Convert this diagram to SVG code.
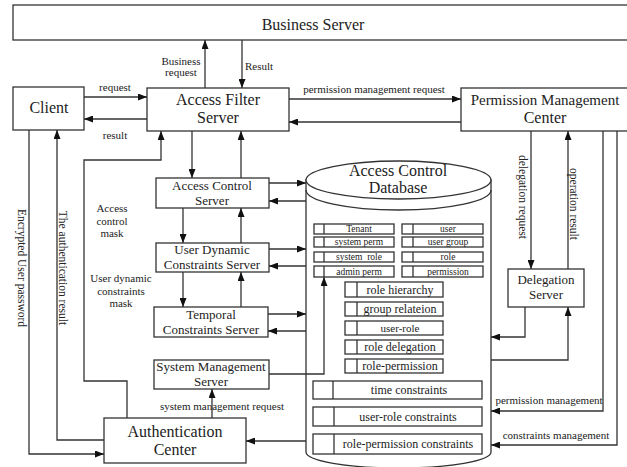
<svg xmlns="http://www.w3.org/2000/svg" width="627" height="467" viewBox="0 0 627 467">
<style>
.box{fill:#fff;stroke:#333;stroke-width:1.3}
.ib{fill:#fff;stroke:#333;stroke-width:1.3}
.ln{fill:none;stroke:#333;stroke-width:1.3}
text{font-family:"Liberation Serif","Times New Roman",serif;fill:#222;text-anchor:middle}
.L{font-size:16px}
.M{font-size:13px}
.S{font-size:11px}
.R{font-size:12px}
.V{font-size:11.5px;dominant-baseline:central}
.T{font-size:9.5px}
.St{text-anchor:start}
</style>
<defs>
<marker id="ah" markerUnits="userSpaceOnUse" markerWidth="9" markerHeight="7" refX="9" refY="3.5" orient="auto">
<path d="M0,0 L9,3.5 L0,7 z" fill="#111"/>
</marker>
</defs>

<g id="business-server">
<rect class="box" x="13" y="5" width="620" height="35"/>
<text class="L" x="313" y="30">Business Server</text>
</g>
<g id="client">
<rect class="box" x="13" y="87" width="71" height="43"/>
<text class="L" x="49" y="113">Client</text>
</g>
<g id="access-filter-server">
<rect class="box" x="147" y="88" width="142" height="43"/>
<text class="L" x="218" y="105">Access Filter</text>
<text class="L" x="218" y="123">Server</text>
</g>
<g id="permission-management-center">
<rect class="box" x="461" y="88" width="172" height="43"/>
<text class="L" x="545" y="105" style="font-size:15px">Permission Management</text>
<text class="L" x="545" y="123">Center</text>
</g>
<g id="access-control-server">
<rect class="box" x="156" y="178" width="113" height="30"/>
<text class="M" x="212" y="190">Access Control</text>
<text class="M" x="212" y="205">Server</text>
</g>
<g id="user-dynamic-constraints-server">
<rect class="box" x="156" y="243" width="113" height="29"/>
<text class="M" x="212" y="254">User Dynamic</text>
<text class="M" x="212" y="269">Constraints Server</text>
</g>
<g id="temporal-constraints-server">
<rect class="box" x="154" y="307" width="114" height="30"/>
<text class="M" x="211" y="319">Temporal</text>
<text class="M" x="211" y="334">Constraints Server</text>
</g>
<g id="system-management-server">
<rect class="box" x="154" y="360" width="115" height="29"/>
<text class="M" x="211" y="371">System Management</text>
<text class="M" x="211" y="386">Server</text>
</g>
<g id="authentication-center">
<rect class="box" x="104" y="418" width="142" height="45"/>
<text class="L" x="175" y="437">Authentication</text>
<text class="L" x="175" y="455">Center</text>
</g>
<g id="delegation-server">
<rect class="box" x="508" y="269" width="76" height="38"/>
<text class="M" x="546" y="284">Delegation</text>
<text class="M" x="546" y="299">Server</text>
</g>

<g id="access-control-database">
<path class="box" d="M306,180 V452 A92.5,16 0 0 0 491,452 V180 Z"/>
<ellipse class="box" cx="398.5" cy="180" rx="92.5" ry="19"/>
<path class="ln" d="M306,190 A92.5,20 0 0 0 491,190"/>
<text class="L" x="398" y="176">Access Control</text>
<text class="L" x="398" y="193">Database</text>

<g id="db-tenant"><rect class="ib" x="314" y="224" width="80" height="10"/><line class="ln" x1="324" y1="224" x2="324" y2="234"/><text class="T" x="359" y="232">Tenant</text></g>
<g id="db-system-perm"><rect class="ib" x="314" y="237" width="80" height="10"/><line class="ln" x1="324" y1="237" x2="324" y2="247"/><text class="T" x="359" y="245">system perm</text></g>
<g id="db-system-role"><rect class="ib" x="314" y="252" width="80" height="10"/><line class="ln" x1="324" y1="252" x2="324" y2="262"/><text class="T" x="359" y="260" xml:space="preserve">system  role</text></g>
<g id="db-admin-perm"><rect class="ib" x="314" y="266" width="80" height="11"/><line class="ln" x1="324" y1="266" x2="324" y2="277"/><text class="T" x="359" y="274.5">admin perm</text></g>
<g id="db-user"><rect class="ib" x="402" y="224" width="81" height="10"/><line class="ln" x1="413" y1="224" x2="413" y2="234"/><text class="T" x="448" y="232">user</text></g>
<g id="db-user-group"><rect class="ib" x="402" y="237" width="81" height="10"/><line class="ln" x1="413" y1="237" x2="413" y2="247"/><text class="T" x="448" y="245">user group</text></g>
<g id="db-role"><rect class="ib" x="402" y="252" width="81" height="10"/><line class="ln" x1="413" y1="252" x2="413" y2="262"/><text class="T" x="448" y="260">role</text></g>
<g id="db-permission"><rect class="ib" x="402" y="266" width="81" height="11"/><line class="ln" x1="413" y1="266" x2="413" y2="277"/><text class="T" x="448" y="274.5">permission</text></g>

<g id="db-role-hierarchy"><rect class="ib" x="345" y="282" width="98" height="15"/><line class="ln" x1="357" y1="282" x2="357" y2="297"/><text class="R" x="400" y="293.5">role hierarchy</text></g>
<g id="db-group-relateion"><rect class="ib" x="345" y="302" width="98" height="14"/><line class="ln" x1="357" y1="302" x2="357" y2="316"/><text class="R" x="400" y="313">group relateion</text></g>
<g id="db-user-role"><rect class="ib" x="345" y="321" width="98" height="14"/><line class="ln" x1="357" y1="321" x2="357" y2="335"/><text class="S" x="400" y="331.5">user-role</text></g>
<g id="db-role-delegation"><rect class="ib" x="345" y="340" width="98" height="14"/><line class="ln" x1="357" y1="340" x2="357" y2="354"/><text class="R" x="400" y="351">role delegation</text></g>
<g id="db-role-permission"><rect class="ib" x="345" y="359" width="98" height="14"/><line class="ln" x1="357" y1="359" x2="357" y2="373"/><text class="R" x="400" y="370">role-permission</text></g>

<g id="db-time-constraints"><rect class="ib" x="313" y="381" width="169" height="18"/><line class="ln" x1="333" y1="381" x2="333" y2="399"/><text class="R" x="409" y="394">time constraints</text></g>
<g id="db-user-role-constraints"><rect class="ib" x="313" y="407" width="169" height="19"/><line class="ln" x1="334" y1="407" x2="334" y2="426"/><text class="R" x="408" y="420.5">user-role constraints</text></g>
<g id="db-role-permission-constraints"><rect class="ib" x="313" y="434" width="169" height="20"/><line class="ln" x1="334" y1="434" x2="334" y2="454"/><text class="R" x="408" y="448">role-permission constraints</text></g>
</g>

<g id="connectors">
<path class="ln" marker-end="url(#ah)" d="M205,88 V40"/>
<path class="ln" marker-end="url(#ah)" d="M242,40 V88"/>
<path class="ln" marker-end="url(#ah)" d="M84,97 H147"/>
<path class="ln" marker-end="url(#ah)" d="M147,119 H84"/>
<path class="ln" marker-end="url(#ah)" d="M289,99 H461"/>
<path class="ln" marker-end="url(#ah)" d="M461,122 H289"/>
<path class="ln" marker-end="url(#ah)" d="M192,131 V178"/>
<path class="ln" marker-end="url(#ah)" d="M241,178 V131"/>
<path class="ln" marker-end="url(#ah)" d="M183,208 V243"/>
<path class="ln" marker-end="url(#ah)" d="M241,243 V208"/>
<path class="ln" marker-end="url(#ah)" d="M183,272 V307"/>
<path class="ln" marker-end="url(#ah)" d="M241,307 V272"/>
<path class="ln" marker-end="url(#ah)" d="M269,183 H306"/>
<path class="ln" marker-end="url(#ah)" d="M306,201 H269"/>
<path class="ln" marker-end="url(#ah)" d="M269,249 H306"/>
<path class="ln" marker-end="url(#ah)" d="M306,266 H269"/>
<path class="ln" marker-end="url(#ah)" d="M268,314 H306"/>
<path class="ln" marker-end="url(#ah)" d="M306,331 H268"/>
<path class="ln" marker-end="url(#ah)" d="M269,374 H324 V277"/>
<path class="ln" marker-end="url(#ah)" d="M212,418 V389"/>
<path class="ln" marker-end="url(#ah)" d="M306,441 H246"/>
<path class="ln" marker-end="url(#ah)" d="M29,130 V454 H104"/>
<path class="ln" marker-end="url(#ah)" d="M104,440 H57 V130"/>
<path class="ln" marker-end="url(#ah)" d="M127,418 V381 H84 V160 H161 V131"/>
<path class="ln" marker-end="url(#ah)" d="M531,131 V269"/>
<path class="ln" marker-end="url(#ah)" d="M568,269 V131"/>
<path class="ln" marker-end="url(#ah)" d="M525,307 V337 H491"/>
<path class="ln" marker-end="url(#ah)" d="M491,360 H568 V307"/>
<path class="ln" marker-end="url(#ah)" d="M603,131 V411 H491"/>
<path class="ln" marker-end="url(#ah)" d="M617,131 V445 H491"/>

<text class="S" x="181" y="64.5">Business</text>
<text class="S" x="181" y="75.5">request</text>
<text class="S St" x="245" y="69.5">Result</text>
<text class="S" x="115" y="90.5">request</text>
<text class="S" x="115" y="138.5">result</text>
<text class="S" x="374" y="92.5">permission management request</text>
<text class="S" x="112" y="211.5">Access</text>
<text class="S" x="112" y="224.5">control</text>
<text class="S" x="112" y="236.5">mask</text>
<text class="S" x="121" y="281.5">User dynamic</text>
<text class="S" x="121" y="294.5">constraints</text>
<text class="S" x="121" y="306.5">mask</text>
<text class="S" x="222" y="409.5">system management request</text>
<text class="S" x="549" y="403.5">permission management</text>
<text class="S" x="556" y="438.5">constraints management</text>
<text class="V" transform="translate(22,268) rotate(90)">Encrypted User password</text>
<text class="V" transform="translate(63,268) rotate(90)">The authentication result</text>
<text class="V" transform="translate(523,197) rotate(90)">delegation request</text>
<text class="V" transform="translate(574,204) rotate(90)">operation result</text>
</g>
</svg>
